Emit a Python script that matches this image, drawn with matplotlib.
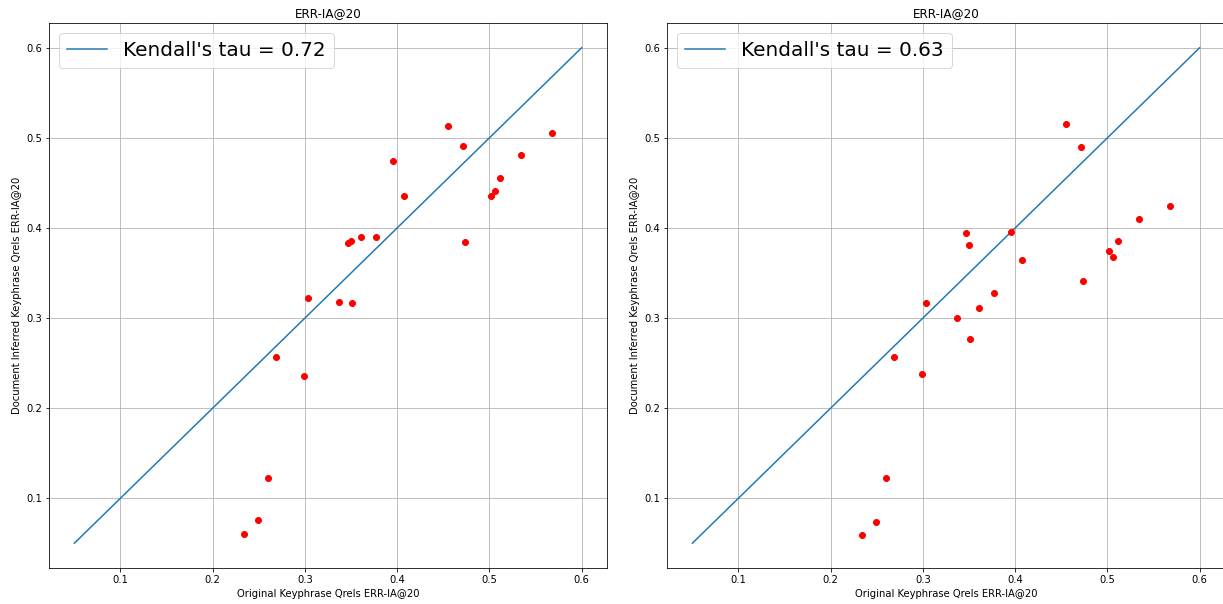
import matplotlib
matplotlib.use("Agg")
import matplotlib.pyplot as plt

# original keyphrase qrels ERR-IA@20 (x, shared by both panels)
original = [0.4546, 0.5676, 0.4709, 0.3959, 0.5338, 0.5120, 0.5066, 0.5012,
            0.4076, 0.3769, 0.3606, 0.3501, 0.3466, 0.4736, 0.3031, 0.3369,
            0.3509, 0.2682, 0.2988, 0.2596, 0.2487, 0.2344]
# document inferred keyphrase qrels, left panel
inferred_a = [0.5133, 0.5056, 0.4911, 0.4744, 0.4811, 0.4555, 0.4410, 0.4351,
              0.4351, 0.3895, 0.3895, 0.3854, 0.3836, 0.3839, 0.3217, 0.3183,
              0.3172, 0.2571, 0.2356, 0.1222, 0.0754, 0.0599]
# document inferred keyphrase qrels, right panel
inferred_b = [0.5156, 0.4244, 0.4900, 0.3951, 0.4099, 0.3851, 0.3673, 0.3739,
              0.3639, 0.3283, 0.3113, 0.3806, 0.3940, 0.3406, 0.3172, 0.3001,
              0.2772, 0.2571, 0.2379, 0.1222, 0.0740, 0.0588]
taus = [0.72, 0.63]
diag = [0.05, 0.6]

W, H = 1223, 604
fig = plt.figure(figsize=(W / 72, H / 72), dpi=72)
ax1 = fig.add_axes([49 / W, 36 / H, 558 / W, 545 / H])
ax2 = fig.add_axes([667 / W, 36 / H, 558 / W, 545 / H])

for ax, ys, tau in zip([ax1, ax2], [inferred_a, inferred_b], taus):
    ax.plot(diag, diag, label="Kendall's tau = %.2f" % tau)
    ax.plot(original, ys, 'ro')
    ax.set_title("ERR-IA@20")
    ax.set_xlabel("Original Keyphrase Qrels ERR-IA@20")
    ax.set_ylabel("Document Inferred Keyphrase Qrels ERR-IA@20")
    ax.grid(True)
    ax.legend(loc="upper left", fontsize=20)

fig.savefig("out.png", dpi=72)
